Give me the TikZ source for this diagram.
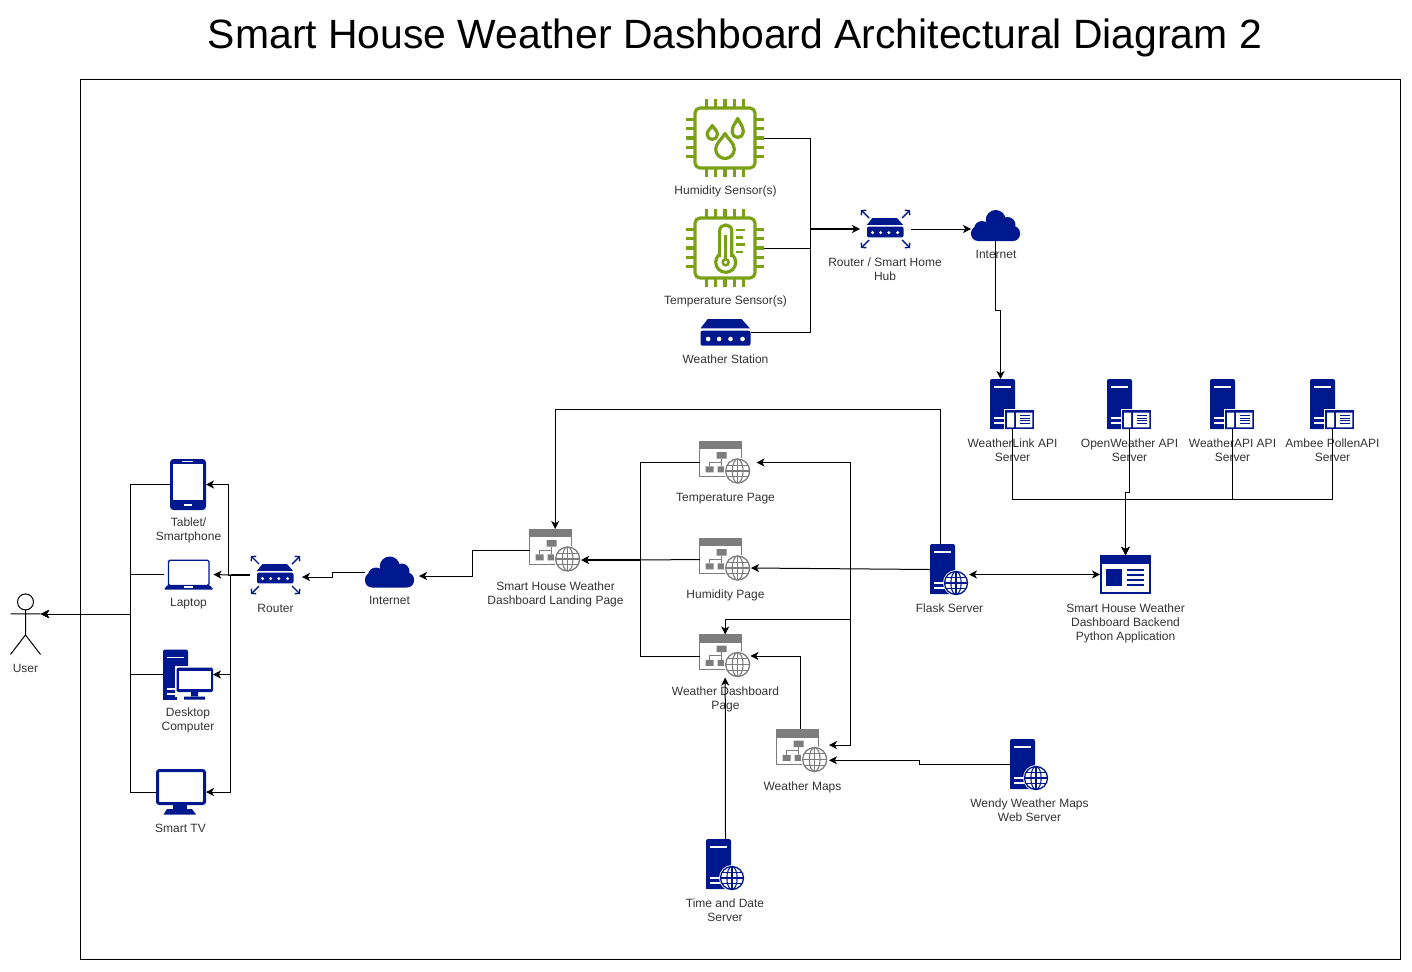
\documentclass[tikz,border=0pt]{standalone}
\usepackage{fontspec}
\usepackage{xcolor}
\usepackage{tikz}
\usetikzlibrary{arrows.meta, calc}
\setmainfont{Liberation Sans}
\definecolor{azurenavy}{RGB}{0, 24, 141}
\definecolor{pagegray}{RGB}{125, 125, 125}
\definecolor{chipgreen}{RGB}{122, 161, 22}
\definecolor{captiongray}{RGB}{51, 51, 51}

% local origin of an icon is the top left corner of its box
\newcommand{\waterdrop}[4]{% x, top, half width, height
  \draw[chipline] (#1,#2) .. controls ({#1+.3*#3},{#2+.22*#4}) and ({#1+#3},{#2+.38*#4}) .. ({#1+#3},{#2+#4-#3})
    .. controls ({#1+#3},{#2+#4-.45*#3}) and ({#1+.55*#3},{#2+#4}) .. (#1,{#2+#4})
    .. controls ({#1-.55*#3},{#2+#4}) and ({#1-#3},{#2+#4-.45*#3}) .. ({#1-#3},{#2+#4-#3})
    .. controls ({#1-#3},{#2+.38*#4}) and ({#1-.3*#3},{#2+.22*#4}) .. cycle;
}
\newcommand{\globeicon}[4]{% x, y, radius, colour
  \fill[white] (#1,#2) circle[radius={#3+1.5}];
  \draw[#4, line width=1.3] (#1,#2) circle[radius=#3];
  \draw[#4, line width=1.1] (#1,#2) circle[x radius={.45*#3}, y radius=#3];
  \draw[#4, line width=1.1] (#1,{#2-#3}) -- (#1,{#2+#3}) ({#1-#3},#2) -- ({#1+#3},#2)
    ({#1-.88*#3},{#2-.48*#3}) -- ({#1+.88*#3},{#2-.48*#3}) ({#1-.88*#3},{#2+.48*#3}) -- ({#1+.88*#3},{#2+.48*#3});
}

\begin{document}
\begin{tikzpicture}[
    x=1pt, y=-1pt,
    iconbox/.style n args={2}{inner sep=0pt, outer sep=0pt, minimum width=#1pt, minimum height=#2pt},
    lbl/.style={font=\fontsize{12}{14}\selectfont, text=captiongray, align=center, inner sep=0pt},
    frame/.style={draw, line width=1pt, inner sep=0pt, minimum width=1320pt, minimum height=880pt},
    conn/.style={-{Stealth[length=8pt, width=8pt, inset=2.2pt]}, line width=1pt},
    biconn/.style={{Stealth[length=8pt, width=8pt, inset=2.2pt]}-{Stealth[length=8pt, width=8pt, inset=2.2pt]}, line width=1pt},
    plainline/.style={line width=1pt},
    heavyline/.style={line width=1.7pt},
    chipline/.style={chipgreen, line width=3.2pt, line join=round},
    chipframe/.pic={
        \draw[chipline, rounded corners=5pt] (9,9) rectangle (69,69);
        \foreach \p in {20.5,29.75,39,48.25,57.5} {
            \draw[chipline] (\p,0) -- (\p,9) (\p,69) -- (\p,78) (0,\p) -- (9,\p) (69,\p) -- (78,\p);
        }
    },
    drops/.pic={
        \waterdrop{39}{34.5}{9.3}{25}
        \waterdrop{26.3}{26.5}{5.2}{14}
        \waterdrop{51.7}{19.5}{5.6}{19}
    },
    thermo/.pic={
        \draw[chipline, fill=white] (39.7,53.3) circle[radius=10];
        \draw[chipline, fill=white] (33.6,48) -- (33.6,22) .. controls (33.6,14) and (45.8,14) .. (45.8,22) -- (45.8,48);
        \fill[white] (35.2,44) rectangle (44.2,51);
        \draw[chipgreen, line width=2.5pt] (39.7,26) -- (39.7,50);
        \draw[chipgreen, line width=2.5pt] (39.7,53.3) circle[radius=3];
        \draw[chipgreen, line width=2.6pt] (50,21) -- (59,21) (50,28.3) -- (57,28.3) (50,35.7) -- (59,35.7) (50,43) -- (57,43);
    },
    netbox/.pic={
        \fill[azurenavy] (7.3,0) -- (41,0) -- (49.3,9.3) -- (0,9.3) -- cycle;
        \fill[azurenavy, rounded corners=2pt] (0,11.7) rectangle (50,26.7);
        \foreach \p in {7.6,18.6,30,42} {
            \fill[white] (\p,20) circle[radius=2.3];
        }
    },
    hubarrows/.pic={
        \draw[azurenavy, line width=1.4pt, -{Straight Barb[length=3pt, width=7pt]}] (9,9) -- (1,1);
        \draw[azurenavy, line width=1.4pt, -{Straight Barb[length=3pt, width=7pt]}] (42,9) -- (50,1);
        \draw[azurenavy, line width=1.4pt, -{Straight Barb[length=3pt, width=7pt]}] (9,31) -- (1,39);
        \draw[azurenavy, line width=1.4pt, -{Straight Barb[length=3pt, width=7pt]}] (42,31) -- (50,39);
    },
    cloudicon/.pic={
        \fill[azurenavy, rounded corners=7pt] (0,16) rectangle (49,31);
        \fill[azurenavy] (24.7,10) circle[radius=10];
        \fill[azurenavy] (36.5,15) circle[radius=8];
        \fill[azurenavy] (11,19) circle[radius=8];
    },
    towerbody/.pic={
        \fill[azurenavy, rounded corners=2pt] (0,0) -- (25,0) -- (25,50) -- (0,50) -- cycle;
        \fill[azurenavy] (0,30) rectangle (25,50);
        \draw[white, line width=1.8pt] (4,8) -- (21,8) (4,39.3) -- (14,39.3) (4,44.3) -- (14,44.3);
    },
    apiserver/.pic={
        \path pic {towerbody};
        \fill[white] (13.5,29.5) rectangle (44.5,50);
        \fill[azurenavy] (15,31) rectangle (44,50);
        \fill[white] (17,33.7) rectangle (24,48.4) (26,33.7) rectangle (42.3,48.4);
        \draw[azurenavy, line width=1pt] (29.5,36.5) -- (39.5,36.5) (29.5,39.2) -- (39.5,39.2) (29.5,41.9) -- (39.5,41.9) (29.5,44.6) -- (39.5,44.6);
    },
    webserver/.pic={
        \path pic {towerbody};
        \globeicon{26}{39}{11.5}{azurenavy}
    },
    webpage/.pic={
        \fill[white] (0,0) rectangle (42,35);
        \draw[pagegray, line width=1pt] (0,0) rectangle (42,35);
        \fill[pagegray] (0,0) rectangle (42,8);
        \fill[pagegray] (16.7,11) rectangle (26.7,17.7) (5.7,25.3) rectangle (13.7,31.3) (17.7,25.3) rectangle (24,31.3);
        \draw[pagegray, line width=1pt] (21.7,17.7) -- (21.7,25.3) (21.7,21.3) -| (9.7,25.3);
        \globeicon{37.7}{30}{12}{pagegray}
    },
    tableticon/.pic={
        \fill[azurenavy, rounded corners=3.5pt] (0,0) rectangle (36,51);
        \fill[white] (3,4.5) rectangle (33,41);
        \draw[white, line width=1.6pt] (12,2.5) -- (23,2.5) (14,46) -- (22,46);
    },
    laptopicon/.pic={
        \draw[azurenavy, line width=1.4pt, fill=white, rounded corners=1.5pt] (4.5,.7) rectangle (45,26);
        \fill[azurenavy, rounded corners=1pt] (3.5,25.5) -- (45.5,25.5) -- (49.5,30) -- (0,30) -- cycle;
        \draw[white, line width=1.3pt] (20,27.6) -- (29,27.6);
    },
    desktopicon/.pic={
        \path pic {towerbody};
        \fill[white] (12,16.5) rectangle (50,50);
        \fill[azurenavy, rounded corners=1.5pt] (13.5,18) rectangle (50,42.5);
        \fill[white] (16,21.3) rectangle (47.5,39.7);
        \fill[azurenavy] (28,42) rectangle (35,46.5) (21,47) rectangle (42,50);
        \fill[azurenavy] (12,47) rectangle (14,50);
    },
    tvicon/.pic={
        \draw[azurenavy, line width=3pt, fill=white, rounded corners=2pt] (1.5,1.5) rectangle (48.5,34.5);
        \fill[azurenavy] (17,35) rectangle (31,41);
        \fill[azurenavy] (11,40) -- (36,40) -- (40,45.5) -- (7.5,45.5) -- cycle;
    },
    backendicon/.pic={
        \draw[azurenavy, line width=1.6pt, fill=white] (.8,.8) rectangle (50.2,38.2);
        \fill[azurenavy] (0,0) rectangle (51,8.5);
        \fill[azurenavy] (6.3,14) rectangle (22,31.3);
        \draw[azurenavy, line width=1.9pt] (27.3,14.7) -- (44,14.7) (27.3,19.7) -- (44,19.7) (27.3,24.7) -- (44,24.7) (27.3,30) -- (44,30);
    },
    actoricon/.pic={
        \draw[line width=1pt] (15,8) circle[radius=8];
        \draw[line width=1pt] (15,16) -- (15,41) (0,20) -- (30,20) (0,60.5) -- (15,41) -- (30,60.5);
    }
]

% Title and frame
\node[font=\fontsize{40.9}{46}\selectfont, text=black, inner sep=0pt] (title) at (735,38) {Smart House Weather Dashboard Architectural Diagram 2};
\node[frame] (outer) at (740.5,519.5) {};

% Sensors
\node[iconbox={78}{78}] (humsensor) at (725,138) {};
\pic at (humsensor.north west) {chipframe};
\pic at (humsensor.north west) {drops};
\node[lbl] (humsensortxt) at (725.5,191.5) {Humidity Sensor(s)};

\node[iconbox={78}{78}] (tempsensor) at (725,248) {};
\pic at (tempsensor.north west) {chipframe};
\pic at (tempsensor.north west) {thermo};
\node[lbl] (tempsensortxt) at (725.5,301.5) {Temperature Sensor(s)};

\node[iconbox={50}{27}] (station) at (725.5,332.5) {};
\pic at (station.north west) {netbox};
\node[lbl] (stationtxt) at (725.5,359) {Weather Station};

% Home hub and cloud
\node[iconbox={51}{40}] (hub) at (885.5,229) {};
\pic at (hub.north west) {hubarrows};
\pic[scale=.73] at ([xshift=7pt,yshift=-9pt]hub.north west) {netbox};
\node[lbl] (hubtxt) at (885,269) {Router / Smart Home\\Hub};

\node[iconbox={49}{31}] (homecloud) at (995.5,225.5) {};
\pic at (homecloud.north west) {cloudicon};
\node[lbl] (homecloudtxt) at (996,254) {Internet};

% API servers
\node[iconbox={44}{50}] (weatherlink) at (1012,404) {};
\pic at (weatherlink.north west) {apiserver};
\node[lbl] (weatherlinktxt) at (1012.5,450) {WeatherLink API\\Server};

\node[iconbox={44}{50}] (openweather) at (1129,404) {};
\pic at (openweather.north west) {apiserver};
\node[lbl] (openweathertxt) at (1129.5,450) {OpenWeather API\\Server};

\node[iconbox={44}{50}] (weatherapi) at (1232,404) {};
\pic at (weatherapi.north west) {apiserver};
\node[lbl] (weatherapitxt) at (1232.5,450) {WeatherAPI API\\Server};

\node[iconbox={44}{50}] (ambee) at (1332,404) {};
\pic at (ambee.north west) {apiserver};
\node[lbl] (ambeetxt) at (1332.5,450) {Ambee PollenAPI\\Server};

% Backend
\node[iconbox={39}{51}] (flask) at (949.5,569.5) {};
\pic at (flask.north west) {webserver};
\node[lbl] (flasktxt) at (949.5,608) {Flask Server};

\node[iconbox={51}{39}] (backend) at (1125.5,574.5) {};
\pic at (backend.north west) {backendicon};
\node[lbl] (backendtxt) at (1125.5,623) {Smart House Weather\\Dashboard Backend\\Python Application};

% Web pages
\node[iconbox={50.5}{43}] (landing) at (555.2,550.5) {};
\pic at (landing.north west) {webpage};
\node[lbl] (landingtxt) at (555.5,594.5) {Smart House Weather\\Dashboard Landing Page};

\node[iconbox={50.5}{43}] (temppage) at (725.2,462.5) {};
\pic at (temppage.north west) {webpage};
\node[lbl] (temppagetxt) at (725.5,498.5) {Temperature Page};

\node[iconbox={50.5}{43}] (humpage) at (725.2,559.5) {};
\pic at (humpage.north west) {webpage};
\node[lbl] (humpagetxt) at (725.5,595) {Humidity Page};

\node[iconbox={50.5}{43}] (dashpage) at (725.2,656) {};
\pic at (dashpage.north west) {webpage};
\node[lbl] (dashpagetxt) at (725.5,699.5) {Weather Dashboard\\Page};

\node[iconbox={50.5}{43}] (mapspage) at (802.2,751) {};
\pic at (mapspage.north west) {webpage};
\node[lbl] (mapspagetxt) at (802.5,787.5) {Weather Maps};

\node[iconbox={39}{51}] (wendy) at (1029.5,764.5) {};
\pic at (wendy.north west) {webserver};
\node[lbl] (wendytxt) at (1029.5,810) {Wendy Weather Maps\\Web Server};

\node[iconbox={39}{51}] (timedate) at (725.5,864.5) {};
\pic at (timedate.north west) {webserver};
\node[lbl] (timedatetxt) at (725,910) {Time and Date\\Server};

% Client side
\node[iconbox={49}{31}] (webcloud) at (389.5,572) {};
\pic at (webcloud.north west) {cloudicon};
\node[lbl] (webcloudtxt) at (389.5,600) {Internet};

\node[iconbox={51}{40}] (router) at (275.5,575) {};
\pic at (router.north west) {hubarrows};
\pic[scale=.73] at ([xshift=7pt,yshift=-9pt]router.north west) {netbox};
\node[lbl] (routertxt) at (275.5,608) {Router};

\node[iconbox={36}{51}] (tablet) at (188,484.5) {};
\pic at (tablet.north west) {tableticon};
\node[lbl] (tablettxt) at (188.5,530.5) {Tablet/\\Smartphone};

\node[iconbox={49.5}{30}] (laptop) at (188.7,574.5) {};
\pic at (laptop.north west) {laptopicon};
\node[lbl] (laptoptxt) at (188.5,603.5) {Laptop};

\node[iconbox={50}{50}] (desktop) at (188,674.5) {};
\pic at (desktop.north west) {desktopicon};
\node[lbl] (desktoptxt) at (188,720.5) {Desktop\\Computer};

\node[iconbox={50}{46}] (smarttv) at (181,792) {};
\pic at (smarttv.north west) {tvicon};
\node[lbl] (smarttvtxt) at (180.5,828) {Smart TV};

\node[iconbox={30}{60.5}] (user) at (25.5,624.2) {};
\pic at (user.north west) {actoricon};
\node[lbl] (usertxt) at (25.5,668) {User};

% Bends
\coordinate (sensorjoin) at (810,229);
\coordinate (cloudjog) at (1000.5,310);
\coordinate (apibus) at (1125.5,499);
\coordinate (openjog) at (1125.5,492);
\coordinate (flasktop) at (940.6,409.5);
\coordinate (flaskbus) at (850,569.5);
\coordinate (dashbend) at (725.2,619.5);
\coordinate (humtip) at (751,568);
\coordinate (temptip) at (756.5,462.5);
\coordinate (mapstipa) at (829,745);
\coordinate (mapstipb) at (829,760.3);
\coordinate (wendyjog) at (919,760.3);
\coordinate (mapsrise) at (800.3,729);
\coordinate (pagebus) at (640,560);
\coordinate (landtip) at (581,560);
\coordinate (landjog) at (472,576);
\coordinate (inettip) at (419,576);
\coordinate (routerjog) at (332.5,577);
\coordinate (routertip) at (302,577);
\coordinate (tabletjog) at (228,575);
\coordinate (devicejog) at (230.5,575);
\coordinate (userbus) at (130,614);
\coordinate (usertip) at (41,614);

% Sensor side connectors
\foreach \src in {humsensor, tempsensor, station} {
    \draw[plainline] (\src.east) -| (sensorjoin);
}
\draw[conn, heavyline] (sensorjoin) -- (hub.west);
\draw[conn] (hub.east) -- (hub.east -| homecloud.west);
\draw[conn] (homecloud.south) |- (cloudjog) -- (cloudjog |- weatherlink.north);

% API servers to backend
\foreach \src in {weatherlink, weatherapi, ambee} {
    \draw[conn] (\src.south) |- (apibus) -- (backend.north);
}
\draw[conn] (openweather.south) |- (openjog) -- (backend.north);
\draw[biconn] (backend.west -| flask.east) -- (backend.west);

% Flask server to pages
\draw[conn] (flasktop |- flask.north) -- (flasktop) -| (landing.north);
\draw[conn] (flask.west) -- (humtip);
\draw[conn] (flaskbus) |- (temptip);
\draw[conn] (flaskbus) |- (dashbend) -- (dashpage.north);
\draw[conn] (flaskbus) |- (mapstipa);
\draw[conn] (wendy.west) -| (wendyjog) -- (mapstipb);
\draw[conn] (mapsrise) |- (dashpage.east);
\draw[conn] (timedate.north) -- (dashpage.south);

% Pages to landing page
\draw[plainline] (temppage.west) -| (pagebus);
\draw[plainline] (dashpage.west) -| (pagebus);
\draw[plainline] (humpage.west) -- (pagebus);
\draw[conn, heavyline] (pagebus) -- (landtip);

% Towards the user
\draw[conn] (landing.west) -| (landjog) -- (inettip);
\draw[conn] (webcloud.west) -| (routerjog) -- (routertip);
\draw[heavyline] (router.west) -- (devicejog);
\draw[conn] (devicejog) -- (tabletjog) |- (tablet.east);
\draw[conn] (devicejog) -- (laptop.east);
\draw[conn] (devicejog) |- (desktop.east);
\draw[conn] (devicejog) |- (smarttv.east);
\foreach \src in {tablet, laptop, desktop, smarttv} {
    \draw[conn] (\src.west) -| (userbus) -- (usertip);
}

\useasboundingbox (0,0) rectangle (1412,971);
\end{tikzpicture}
\end{document}
